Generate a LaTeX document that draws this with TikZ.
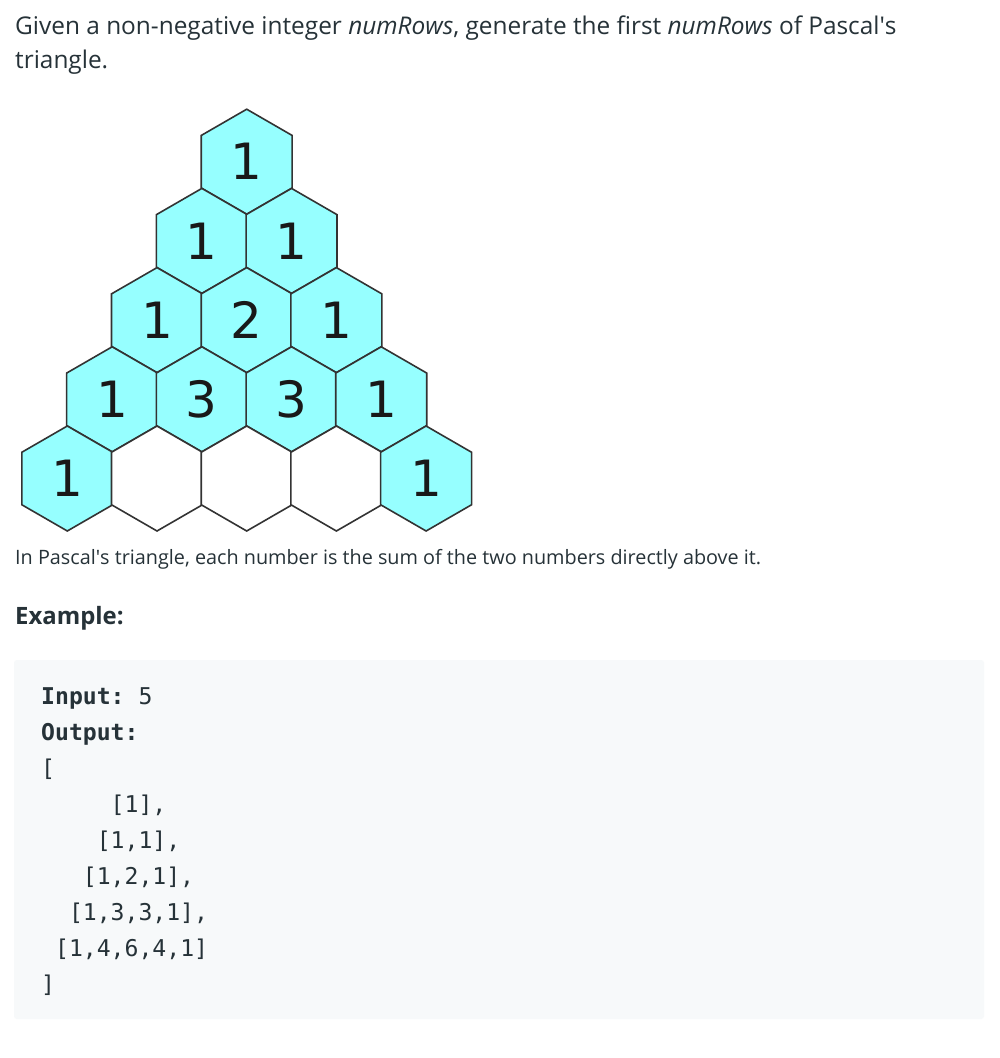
\documentclass[tikz,border=0pt]{standalone}
\usepackage{fontspec}
\setmainfont{Open Sans}
\setmonofont{DejaVu Sans Mono}
\newfontfamily\hexfont{DejaVu Sans}
\usetikzlibrary{shapes.geometric}
\definecolor{hexcyan}{RGB}{150,255,255}
\definecolor{ink}{HTML}{263238}
\definecolor{codebg}{HTML}{F7F9FA}

\begin{document}
\begin{tikzpicture}[x=1pt,y=-1pt,
  hexcell/.style={draw=black!80, line width=1.6pt, regular polygon,
    regular polygon sides=6, shape border rotate=30, minimum size=105pt,
    inner sep=0pt, fill=hexcyan, text=black!90,
    font=\hexfont\fontsize{50}{50}\selectfont},
  hexblank/.style={hexcell, fill=white},
  para/.style={anchor=base west, inner sep=0pt, text=ink,
    font=\fontsize{24.4}{28}\selectfont},
  codeline/.style={anchor=base west, inner sep=0pt, text=ink,
    font=\ttfamily\fontsize{23.1}{28}\selectfont}]
\useasboundingbox[fill=white] (0,0) rectangle (1000,1058);

% text above the triangle
\node[para](given) at (15,34.3){Given a non-negative integer \textit{numRows}, generate the first \textit{numRows} of Pascal\textquotesingle s};
\node[para](given2) at (15,68.3){triangle.};

% the triangle
\node[hexcell](p00) at (246.7,161.7){1};
\node[hexcell](p10) at (201.85,240.9){1};
\node[hexcell](p11) at (291.55,240.9){1};
\node[hexcell](p20) at (157.0,320.1){1};
\node[hexcell](p21) at (246.7,320.1){2};
\node[hexcell](p22) at (336.4,320.1){1};
\node[hexcell](p30) at (112.15,399.3){1};
\node[hexcell](p31) at (201.85,399.3){3};
\node[hexcell](p32) at (291.55,399.3){3};
\node[hexcell](p33) at (381.25,399.3){1};
\node[hexcell](p40) at (67.3,478.5){1};
\node[hexblank](p41) at (157.0,478.5){};
\node[hexblank](p42) at (246.7,478.5){};
\node[hexblank](p43) at (336.4,478.5){};
\node[hexcell](p44) at (426.1,478.5){1};

\node[para, font=\fontsize{19.8}{23}\selectfont](note) at (15,564.3){In Pascal\textquotesingle s triangle, each number is the sum of the two numbers directly above it.};
\node[para, font=\bfseries\fontsize{23.9}{27}\selectfont](example) at (15,624){Example:};

% code block
\node[fill=codebg, rounded corners=3pt, minimum width=970pt, minimum height=359pt, inner sep=0pt](code) at (499,839.5){};
\node[codeline](in) at (41,704){\textbf{Input:} 5};
\node[codeline](out) at (41,740){\textbf{Output:}};
\node[codeline](open) at (41,776){[};
\node[codeline](row1) at (110.5,812){[1],};
\node[codeline](row2) at (96.6,848){[1,1],};
\node[codeline](row3) at (82.7,884){[1,2,1],};
\node[codeline](row4) at (68.8,920){[1,3,3,1],};
\node[codeline](row5) at (54.9,956){[1,4,6,4,1]};
\node[codeline](close) at (41,992){]};
\end{tikzpicture}
\end{document}
